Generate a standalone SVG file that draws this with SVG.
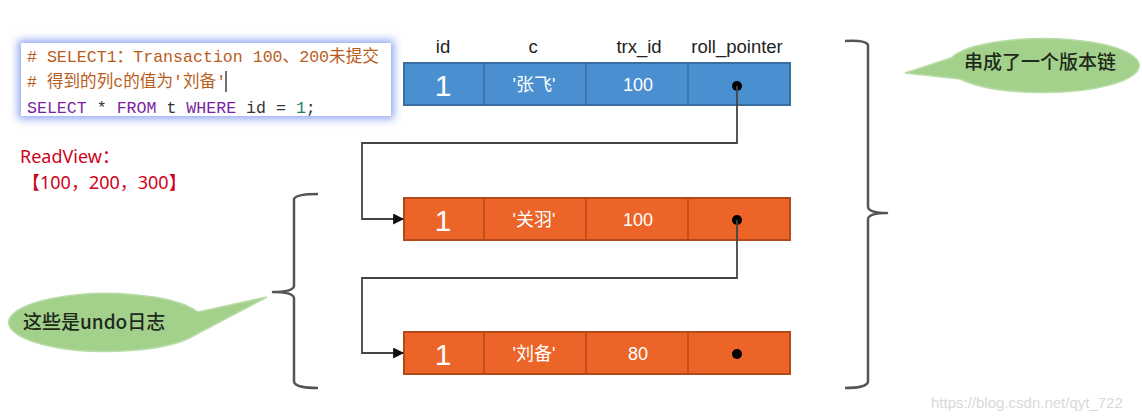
<svg xmlns="http://www.w3.org/2000/svg" width="1142" height="420" viewBox="0 0 1142 420">
<style>
.mono{font-family:"Liberation Mono","Noto Sans CJK SC",monospace;font-size:16.6px}
.cm{fill:#b95d1c}
.kw{fill:#7b1fa2}
.tx{fill:#333}
.num{fill:#1b7d5d}
.rv{font-family:"Noto Sans","Noto Sans CJK SC",sans-serif;font-size:18px;fill:#d0021b}
.hdr{font-family:"Liberation Sans","Noto Sans CJK SC",sans-serif;font-size:18.5px;fill:#222;text-anchor:middle}
.cell{font-family:"Liberation Sans","Noto Sans CJK SC",sans-serif;font-size:18px;fill:#fff;text-anchor:middle}
.big{font-family:"Liberation Sans",sans-serif;font-size:30px;font-weight:300;fill:#fff;text-anchor:middle}
.blue{fill:#4a8fcf;stroke:#3a6e9e;stroke-width:2}
.orange{fill:#ec6428;stroke:#b44a1a;stroke-width:2}
.div{stroke-width:1.5}
.conn{fill:none;stroke:#444;stroke-width:1.8}
.brace{fill:none;stroke:#555;stroke-width:2.5;stroke-linejoin:round}
.bubble{fill:#a3d18c;stroke:#b8dca6;stroke-width:1.5}
.btxt{font-family:"Noto Sans CJK SC",sans-serif;font-size:19px;fill:#1e2a1a;font-weight:500}
.wm{font-family:"Liberation Sans",sans-serif;font-size:15px;fill:#d9d9d9}
</style>
<defs>
<marker id="arr" viewBox="0 0 10 10" refX="9" refY="5" markerWidth="11" markerHeight="11" markerUnits="userSpaceOnUse" orient="auto">
<path d="M0,0 L10,5 L0,10 z" fill="#111"/>
</marker>
<filter id="glow" x="-10%" y="-30%" width="120%" height="160%">
<feGaussianBlur stdDeviation="4"/>
</filter>
</defs>
<rect width="1142" height="420" fill="#fff"/>

<g id="code">
<rect x="18" y="40" width="376" height="79" fill="#8fa6f0" filter="url(#glow)"/>
<rect x="21" y="43" width="370" height="73" fill="#fff"/>
<text class="mono cm" x="27" y="62"># SELECT1：Transaction 100、200未提交</text>
<text class="mono cm" x="27" y="87"># 得到的列c的值为'刘备'</text>
<line x1="226" y1="71" x2="226" y2="92" stroke="#111" stroke-width="1.2"/>
<text class="mono" x="27" y="113"><tspan class="kw">SELECT</tspan><tspan class="tx"> * </tspan><tspan class="kw">FROM</tspan><tspan class="tx"> t </tspan><tspan class="kw">WHERE</tspan><tspan class="tx"> id = </tspan><tspan class="num">1</tspan><tspan class="tx">;</tspan></text>
</g>

<g id="readview">
<text class="rv" x="20" y="163">ReadView：</text>
<text class="rv" x="22" y="189">【100，200，300】</text>
</g>

<g id="headers">
<text class="hdr" x="443" y="53">id</text>
<text class="hdr" x="533" y="53">c</text>
<text class="hdr" x="639" y="53">trx_id</text>
<text class="hdr" x="737" y="53">roll_pointer</text>
</g>

<g id="row1">
<rect class="blue" x="404" y="63" width="386" height="42"/>
<g stroke="#3a6e9e" class="div"><line x1="484" y1="63" x2="484" y2="105"/><line x1="586" y1="63" x2="586" y2="105"/><line x1="688" y1="63" x2="688" y2="105"/></g>
<text class="big" x="443" y="96">1</text>
<text class="cell" x="534" y="91">'张飞'</text>
<text class="cell" x="638" y="91">100</text>
<circle cx="737" cy="86" r="5" fill="#000"/>
</g>

<g id="row2">
<rect class="orange" x="404" y="198" width="386" height="42"/>
<g stroke="#b44a1a" class="div"><line x1="484" y1="198" x2="484" y2="240"/><line x1="586" y1="198" x2="586" y2="240"/><line x1="688" y1="198" x2="688" y2="240"/></g>
<text class="big" x="443" y="231">1</text>
<text class="cell" x="534" y="226">'关羽'</text>
<text class="cell" x="638" y="226">100</text>
<circle cx="737" cy="220" r="5" fill="#000"/>
</g>

<g id="row3">
<rect class="orange" x="404" y="332" width="386" height="42"/>
<g stroke="#b44a1a" class="div"><line x1="484" y1="332" x2="484" y2="374"/><line x1="586" y1="332" x2="586" y2="374"/><line x1="688" y1="332" x2="688" y2="374"/></g>
<text class="big" x="443" y="365">1</text>
<text class="cell" x="534" y="360">'刘备'</text>
<text class="cell" x="638" y="360">80</text>
<circle cx="737" cy="354" r="5" fill="#000"/>
</g>

<g id="connectors">
<path class="conn" d="M737,86 V143 H362 V219 H403" marker-end="url(#arr)"/>
<path class="conn" d="M737,220 V278 H362 V353 H403" marker-end="url(#arr)"/>
</g>

<g id="brace-right">
<path class="brace" d="M845,41 Q866,40 868,45 V207 Q869,213 887,213 Q869,213 868,219 V382 Q866,388 845,388"/>
</g>

<g id="brace-left">
<path class="brace" d="M318,194 Q296,194 294,199 V286 Q293,292 273,292 Q293,292 294,298 V382 Q296,388 318,388"/>
</g>

<g id="bubble-chain">
<path class="bubble" d="M905,73 L951,58 A96,27 0 1 1 960,79 Z"/>
<text class="btxt" x="1040" y="69" text-anchor="middle">串成了一个版本链</text>
</g>

<g id="bubble-undo">
<path class="bubble" d="M267,297 L198,312 A98,29 0 1 0 195,335 Z"/>
<text class="btxt" x="23" y="329">这些是undo日志</text>
</g>

<text class="wm" x="931" y="408">https://blog.csdn.net/qyt_722</text>
</svg>
